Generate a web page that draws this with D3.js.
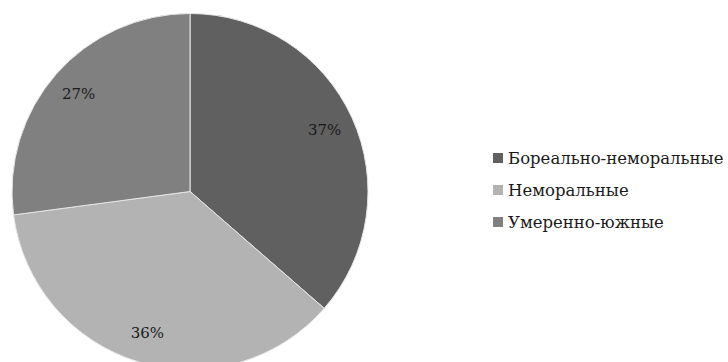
<!DOCTYPE html>
<html>
<head>
<meta charset="utf-8">
<script src="https://cdn.jsdelivr.net/npm/d3@7"></script>
<style>
  body { margin: 0; background: #fff; }
  text { font-family: "DejaVu Serif", "Liberation Serif", serif; }
</style>
</head>
<body>
<div id="chart"></div>
<script>
var categories = ["Бореально-неморальные", "Неморальные", "Умеренно-южные"];
var shares = [36.4, 36.5, 27.1];
var labels = ["37%", "36%", "27%"];
var colors = ["#606060", "#b3b3b3", "#808080"];

var width = 728, height = 362;
var cx = 190, cy = 191.5, radius = 178;

var svg = d3.select("#chart")
            .append("svg")
            .attr("width", width)
            .attr("height", height);

var pie = d3.pie().sort(null).value(function(d) { return d; });
var arcs = pie(shares);

var arc = d3.arc().innerRadius(0).outerRadius(radius);
var labelArc = d3.arc().innerRadius(148).outerRadius(148);

var g = svg.append("g")
           .attr("transform", "translate(" + cx + "," + cy + ")");

g.selectAll("path")
  .data(arcs)
  .enter()
  .append("path")
  .attr("d", arc)
  .style("fill", function(d, i) { return colors[i]; })
  .style("stroke", "#e6e6e6")
  .style("stroke-width", 1);

g.selectAll("text.lbl")
  .data(arcs)
  .enter()
  .append("text")
  .attr("class", "lbl")
  .attr("transform", function(d) { return "translate(" + labelArc.centroid(d) + ")"; })
  .attr("text-anchor", "middle")
  .attr("dy", "0.35em")
  .style("font-size", "15px")
  .style("fill", "#1a1a1a")
  .text(function(d, i) { return labels[i]; });

// legend
var legend = svg.append("g").attr("transform", "translate(493,158)");
var rows = legend.selectAll("g")
  .data(categories)
  .enter()
  .append("g")
  .attr("transform", function(d, i) { return "translate(0," + (i * 32) + ")"; });

rows.append("rect")
  .attr("x", 0)
  .attr("y", -5)
  .attr("width", 10)
  .attr("height", 10)
  .style("fill", function(d, i) { return colors[i]; });

rows.append("text")
  .attr("x", 15)
  .attr("dy", "0.35em")
  .style("font-size", "16.5px")
  .style("fill", "#1a1a1a")
  .text(function(d) { return d; });
</script>
</body>
</html>
